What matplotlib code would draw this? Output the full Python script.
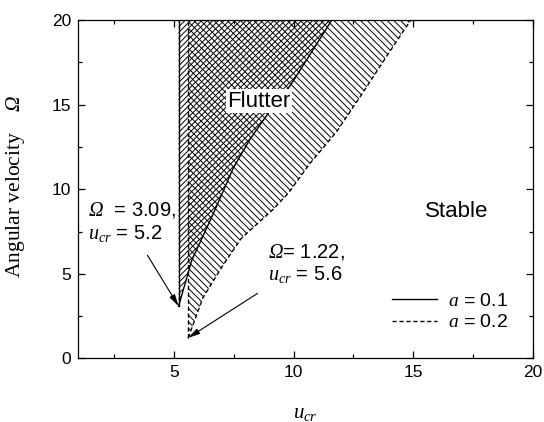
import matplotlib
matplotlib.use('Agg')
import matplotlib.pyplot as plt

# critical points (onset of flutter)
u_cr_01, omega_cr_01 = 5.2, 3.09
u_cr_02, omega_cr_02 = 5.6, 1.22
omega_top = 20.0

# right-hand flutter boundary, a = 0.1
omega_01 = [3.09, 5.8, 8.4, 11.3, 13.0, 14.4, 16.2, 20.0]
u_01 = [5.2, 5.75, 6.6, 7.5, 8.2, 8.9, 9.9, 11.6]

# right-hand flutter boundary, a = 0.2
omega_02 = [1.22, 3.6, 5.5, 7.1, 8.8, 9.8, 11.5, 13.4, 15.4, 18.1, 20.0]
u_02 = [5.6, 6.22, 7.05, 7.82, 9.14, 9.8, 10.67, 11.8, 12.75, 14.0, 14.9]

x_ticks = [5, 10, 15, 20]
y_ticks = [0, 5, 10, 15, 20]

plt.rcParams['font.family'] = 'Liberation Sans'
plt.rcParams['mathtext.fontset'] = 'custom'
plt.rcParams['mathtext.rm'] = 'Liberation Serif:italic'
plt.rcParams['mathtext.it'] = 'Liberation Serif:italic'
plt.rcParams['hatch.linewidth'] = 0.7

fig = plt.figure(figsize=(5.44, 4.22), dpi=100)
ax = fig.add_axes([0.1434, 0.1505, 0.8364, 0.8021])

# hatched flutter regions
ax.fill_betweenx(omega_01, u_cr_01, u_01, facecolor='none', edgecolor='k',
                 linewidth=0, hatch='//////')
ax.fill_betweenx(omega_02, u_cr_02, u_02, facecolor='none', edgecolor='k',
                 linewidth=0, hatch='\\\\\\\\\\')

# boundaries
dash = (0, (3, 2))
ax.plot([u_cr_01, u_cr_01], [omega_cr_01, omega_top], color='k', lw=1)
ax.plot(u_01, omega_01, color='k', lw=1, label='$a$ = 0.1')
ax.plot([u_cr_02, u_cr_02], [omega_cr_02, omega_top], color='k', lw=1, ls=dash)
ax.plot(u_02, omega_02, color='k', lw=1, ls=dash, label='$a$ = 0.2')

# labels in the plot
ax.text(8.56, 15.2, 'Flutter', fontsize=16, ha='center', va='center',
        bbox=dict(facecolor='white', edgecolor='none', pad=1))
ax.text(16.8, 8.67, 'Stable', fontsize=16, ha='center', va='center')

arrow = dict(arrowstyle='-|>,head_length=0.7,head_width=0.18', color='k',
             lw=0.8, shrinkA=0, shrinkB=0)
ax.annotate('', xy=(u_cr_01, omega_cr_01), xytext=(3.9, 6.1), arrowprops=arrow)
ax.annotate('', xy=(u_cr_02, omega_cr_02), xytext=(8.5, 3.85), arrowprops=arrow)

ax.text(1.43, 8.42, r'$\Omega$  = 3.09,', fontsize=14.5, va='baseline')
ax.text(1.43, 7.06, r'$u_{cr}$ = 5.2', fontsize=14.5, va='baseline')
ax.text(8.92, 5.94, r'$\Omega$= 1.22,', fontsize=14.5, va='baseline')
ax.text(8.92, 4.64, r'$u_{cr}$ = 5.6', fontsize=14.5, va='baseline')

ax.legend(loc='lower left', bbox_to_anchor=(0.69, 0.08), frameon=False,
          fontsize=14, handlelength=2.3, handletextpad=0.6, labelspacing=0.2,
          borderpad=0, borderaxespad=0)

# axes
ax.set_xlim(1, 20)
ax.set_ylim(0, 20)
ax.set_xticks(x_ticks)
ax.set_yticks(y_ticks)
ax.set_xticks([2.5, 7.5, 12.5, 17.5], minor=True)
ax.set_yticks([2.5, 7.5, 12.5, 17.5], minor=True)
ax.tick_params(which='both', direction='in', top=True, right=True,
               labelsize=12.5, width=0.9)
ax.tick_params(which='major', length=5, pad=5)
ax.tick_params(which='minor', length=3)
for s in ax.spines.values():
    s.set_linewidth(0.9)

ax.set_xlabel('$u_{cr}$', fontsize=15)
ax.xaxis.set_label_coords(0.5, -0.135)
ax.set_ylabel(r'Angular velocity    $\Omega$', fontsize=15.5,
              family='Liberation Serif')
ax.yaxis.set_label_coords(-0.112, 0.51)

fig.savefig('out.png', dpi=100)
